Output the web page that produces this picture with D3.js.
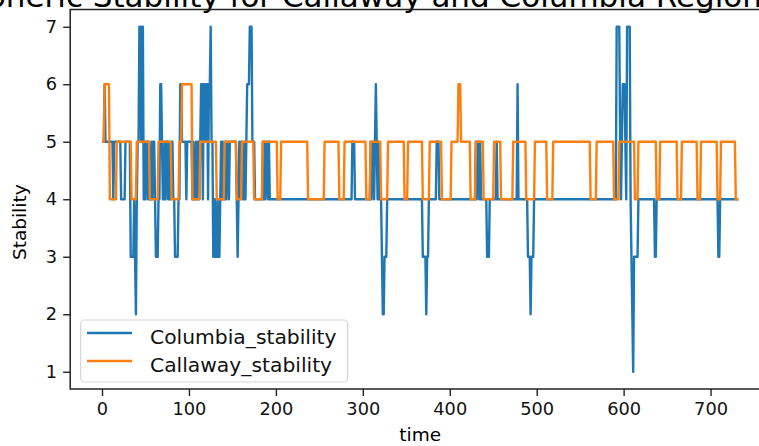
<!DOCTYPE html>
<html>
<head>
<meta charset="utf-8">
<script src="https://cdn.jsdelivr.net/npm/d3@7"></script>
<style>
  html, body { margin: 0; padding: 0; background: #fff; }
  svg { display: block; font-family: "DejaVu Sans", sans-serif; }
</style>
</head>
<body>
<div id="chart"></div>
<script>
// Data, stored as runs of [stability, number of time steps]
const columbiaRuns = [
  [5,3],[6,1],[5,9],[4,1],[5,8],[4,5],[5,6],[3,4],[4,1],[3,1],[2,1],[4,1],[5,2],
  [7,2],[5,1],[7,2],[4,1],
  [5,1],[4,1],[5,2],[4,1],[5,1],[4,2],[5,1],[4,1],[5,2],[4,1],
  [3,3],[4,2],[6,2],
  [5,1],[4,2],[5,1],[4,1],[5,2],[4,1],[5,1],[4,2],[5,2],[4,2],
  [3,4],[4,2],[6,2],[5,5],[4,1],[5,6],
  [4,1],[5,1],[4,2],[5,1],[4,1],[5,2],[4,1],[5,1],
  [6,2],[4,1],[6,2],[5,1],[6,2],[4,1],[6,2],
  [7,1],[5,2],
  [3,2],[4,1],[3,2],[4,1],[3,2],[4,1],
  [5,1],[4,1],[5,1],[4,2],[5,1],[4,1],[5,2],[4,1],[5,8],
  [4,1],[3,1],[4,1],
  [5,1],[4,1],[5,2],[4,2],[5,1],[4,1],[5,1],
  [6,3],[7,3],[5,3],[4,9],
  [5,1],[4,1],[5,1],[4,1],[5,2],[4,1],[5,1],[4,1],
  [4,94],[5,3],[4,18],
  [5,1],[4,1],[5,2],[4,1],[5,1],[6,1],[5,1],[4,1],[5,1],[4,1],
  [4,2],[3,1],[2,2],[3,3],[4,41],[3,4],[2,1],[3,2],[4,9],[5,3],[4,42],
  [5,1],[4,1],[5,2],[4,1],[5,1],[4,1],
  [4,6],[3,3],[4,8],[5,1],[4,23],[6,1],[4,11],[3,3],[2,1],[3,3],[4,95],
  [7,4],[5,1],[4,1],[5,1],[6,3],[5,1],[4,1],[7,4],[4,1],[3,1],[2,1],[1,1],[3,5],
  [4,19],[3,2],[4,71],[3,2],[4,22]
];

const callawayRuns = [
  [5,3],[6,6],[4,8],[5,17],[4,6],[5,15],[4,10],[5,15],[4,9],[5,3],[6,12],[4,9],
  [5,19],[4,9],[5,14],[4,6],[5,14],[4,10],[5,17],[4,4],[5,31],[4,19],[5,17],[4,6],
  [5,25],[4,5],[5,12],[4,8],[5,19],[4,4],[5,17],[4,8],[5,14],[4,11],[5,8],[6,3],
  [5,11],[4,6],[5,9],[4,12],[5,8],[4,14],[5,15],[4,10],[5,14],[4,7],[5,43],[4,7],
  [5,20],[4,6],[5,18],[4,4],[5,21],[4,4],[5,20],[4,5],[5,18],[4,4],[5,19],[4,4],
  [5,17],[4,4]
];

const seriesNames = ["Columbia_stability", "Callaway_stability"];
const seriesColors = ["#1f77b4", "#ff7f0e"];
const xTicks = [0, 100, 200, 300, 400, 500, 600, 700];
const yTicks = [1, 2, 3, 4, 5, 6, 7];
const titleText = "Atmospheric Stability for Callaway and Columbia Regions Over Time";

function expand(runs) {
  const out = [];
  runs.forEach(([v, n]) => { for (let i = 0; i < n; i++) out.push(v); });
  return out;
}

const columbia = expand(columbiaRuns);
const callaway = expand(callawayRuns);
const series = [columbia, callaway];

const width = 759, height = 446;
const plot = { left: 70.2, right: 770.2, top: 9.5, bottom: 389 };

const svg = d3.select("#chart").append("svg")
  .attr("width", width).attr("height", height);

const last = Math.max(columbia.length, callaway.length) - 1;
const xScale = d3.scaleLinear()
  .domain([-0.05 * last, 1.05 * last])
  .range([plot.left, plot.right]);
const yScale = d3.scaleLinear()
  .domain([0.7, 7.3])
  .range([plot.bottom, plot.top]);

// title, cut at the top edge as in the reference
svg.append("text")
  .attr("x", -112).attr("y", 6.5)
  .style("font-size", "31px").style("fill", "#000")
  .text(titleText);

// lines
const line = d3.line().x((d, i) => xScale(i)).y(d => yScale(d));
series.forEach((s, k) => {
  svg.append("path")
    .datum(s)
    .attr("d", line)
    .attr("fill", "none")
    .attr("stroke", seriesColors[k])
    .attr("stroke-width", 2.4)
    .attr("stroke-linejoin", "round");
});

// axes
const xAxis = d3.axisBottom(xScale).tickValues(xTicks).tickSize(7).tickPadding(6);
const gx = svg.append("g").attr("transform", `translate(0,${plot.bottom})`).call(xAxis);
const yAxis = d3.axisLeft(yScale).tickValues(yTicks).tickFormat(d3.format("d")).tickSize(7).tickPadding(6);
const gy = svg.append("g").attr("transform", `translate(${plot.left},0)`).call(yAxis);
[gx, gy].forEach(g => {
  g.select(".domain").remove();
  g.selectAll(".tick line").attr("stroke", "#222").attr("stroke-width", 1.4);
  g.selectAll(".tick text")
    .style("font-size", "17.8px").style("font-family", "DejaVu Sans, sans-serif")
    .attr("fill", "#111");
});

// frame
svg.append("rect")
  .attr("x", plot.left).attr("y", plot.top)
  .attr("width", plot.right - plot.left).attr("height", plot.bottom - plot.top)
  .attr("fill", "none").attr("stroke", "#222").attr("stroke-width", 1.5);

// axis labels
svg.append("text")
  .attr("x", xScale(last / 2)).attr("y", 441)
  .attr("text-anchor", "middle")
  .style("font-size", "18.5px")
  .text("time");
svg.append("text")
  .attr("transform", `translate(26,${yScale(3.6)}) rotate(-90)`)
  .attr("text-anchor", "middle")
  .style("font-size", "18.5px")
  .text("Stability");

// legend
const legend = svg.append("g");
legend.append("rect")
  .attr("x", 80.7).attr("y", 320).attr("width", 267).attr("height", 62).attr("rx", 4)
  .attr("fill", "#fff").attr("fill-opacity", 0.8)
  .attr("stroke", "#d6d6d6").attr("stroke-width", 1.2);
seriesNames.forEach((name, k) => {
  const y = 333 + k * 28;
  legend.append("line")
    .attr("x1", 87).attr("x2", 132).attr("y1", y).attr("y2", y)
    .attr("stroke", seriesColors[k]).attr("stroke-width", 2.6);
  legend.append("text")
    .attr("x", 150).attr("y", y + 10.5)
    .style("font-size", "20.3px").attr("fill", "#111")
    .text(name);
});
</script>
</body>
</html>
